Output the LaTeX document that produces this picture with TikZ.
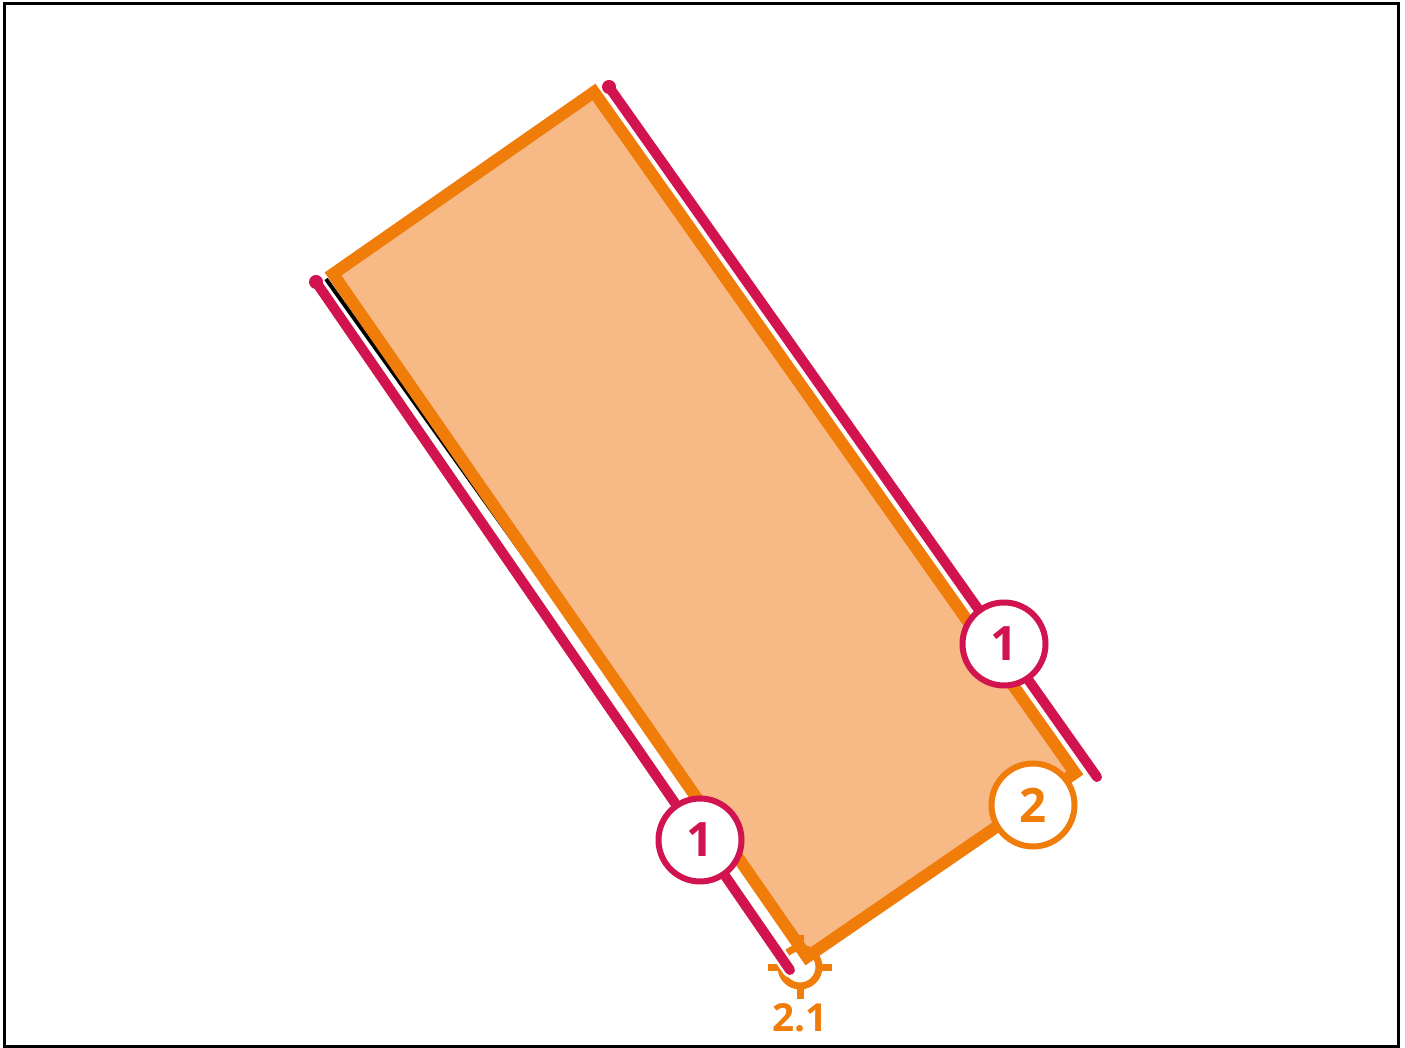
\documentclass[tikz,border=0pt]{standalone}
\usepackage{fontspec}
\setmainfont{Open Sans}
\usetikzlibrary{calc}
\definecolor{plotorange}{HTML}{F07C0A}
\definecolor{plotfill}{HTML}{F7B985}
\definecolor{edgered}{HTML}{D1134F}
\begin{document}
\begin{tikzpicture}[
  x=0.1mm, y=-0.1mm,
  plotline/.style={draw=plotorange, line width=1.2mm, line join=miter},
  edgeline/.style={draw=edgered, line width=1mm, line cap=round},
  casing/.style={draw=white, line width=1.5mm, line cap=round},
  tag/.style={circle, draw=#1, fill=white, line width=0.6mm,
    minimum size=8.3mm, inner sep=0pt, text=#1,
    font=\fontsize{13.5}{13.5}\selectfont\bfseries},
  target/.style={draw=plotorange, line width=0.7mm},
  ptlab/.style={text=plotorange, font=\fontsize{11}{11}\selectfont\bfseries}
]
\useasboundingbox (0,0) rectangle (1405,1048);
\draw[line width=0.3mm] (4,4) rectangle (1398,1046);
% the plot corners
\coordinate (ptop) at (594,92);
\coordinate (pleft) at (333,274);
\coordinate (pbot) at (807,957);
\coordinate (pright) at (1075,773);
% the plot area
\fill[plotfill] (ptop) -- (pleft) -- (pbot) -- (pright) -- cycle;
\draw[line width=0.4mm] (326,279) -- (806,950);
\draw[plotline] (ptop) -- (pleft) -- (pbot) -- (pright) -- cycle;
% the point 2.1
\coordinate (pt21) at (800,967);
\draw[target] (pt21) circle[radius=19];
\foreach \a in {0,90,180,270}
  \draw[target] ($(pt21)+(\a:19)$) -- ($(pt21)+(\a:32)$);
\node[ptlab] (lab21) at (800,1018) {2.1};
% the boundary edges
\coordinate (eas) at (316,282);
\coordinate (eae) at (790,970);
\coordinate (ebs) at (609,87);
\coordinate (ebe) at (1097,777);
\draw[casing] (eas) -- (eae);
\draw[casing] (ebs) -- (ebe);
\draw[edgeline] (eas) -- (eae);
\draw[edgeline] (ebs) -- (ebe);
\fill[edgered] (eas) circle[radius=7];
\fill[edgered] (ebs) circle[radius=7];
% the labels
\node[tag=edgered] (n1a) at (700,840) {1};
\node[tag=edgered] (n1b) at (1004,644) {1};
\node[tag=plotorange] (n2) at (1033,805) {2};
\end{tikzpicture}
\end{document}
